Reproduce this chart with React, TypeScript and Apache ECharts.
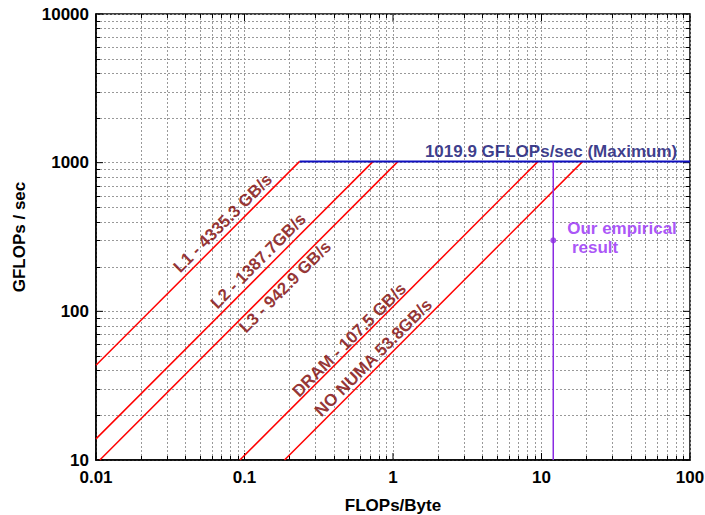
import React, { useEffect, useRef } from "react";
import * as echarts from "echarts";

// ---- data ----
const roofNames = ["L1 - 4335.3 GB/s", "L2 - 1387.7GB/s", "L3 - 942.9 GB/s", "DRAM - 107.5 GB/s", "NO NUMA 53.8GB/s"];
const roofBandwidths = [4335.3, 1387.7, 942.9, 107.5, 53.8];
const peakGflops = 1019.9;
const peakLabel = "1019.9 GFLOPs/sec (Maximum)";
const empiricalX = 12;
const empiricalY = 300;
const empiricalLabel = ["Our empirical", " result"];
const xDomain = [0.01, 100];
const yDomain = [10, 10000];

// annotation anchors (data coordinates)
const roofLabelAnchors = [
  [0.0715, 392],
  [0.124, 218],
  [0.188, 146],
  [0.508, 64.2],
  [0.738, 48.7],
];

const FONT = "'Liberation Sans', Arial, Helvetica, sans-serif";

function minorValues(lo: number, hi: number): number[] {
  const out: number[] = [];
  for (let d = Math.round(Math.log10(lo)); d < Math.round(Math.log10(hi)); d++) {
    for (let m = 2; m <= 9; m++) out.push(m * Math.pow(10, d));
  }
  return out;
}
function majorValues(lo: number, hi: number): number[] {
  const out: number[] = [];
  for (let d = Math.round(Math.log10(lo)); d <= Math.round(Math.log10(hi)); d++) out.push(Math.pow(10, d));
  return out;
}

export default function App() {
  const ref = useRef<HTMLDivElement>(null);
  useEffect(() => {
    document.body.style.margin = "0";
    const chart = echarts.init(ref.current!, null, { renderer: "svg" });

    const xMinor = minorValues(xDomain[0], xDomain[1]);
    const yMinor = minorValues(yDomain[0], yDomain[1]);
    const xMajor = majorValues(xDomain[0], xDomain[1]);
    const yMajor = majorValues(yDomain[0], yDomain[1]);

    const roofSeries = roofBandwidths.map((bw, i) => {
      const x0 = Math.max(xDomain[0], yDomain[0] / bw);
      return {
        name: roofNames[i],
        type: "line",
        data: [
          [x0, bw * x0],
          [peakGflops / bw, peakGflops],
        ],
        showSymbol: false,
        lineStyle: { color: "#ff0000", width: 1.5 },
        clip: true,
        z: 3,
      };
    });

    const ridgeL1 = peakGflops / roofBandwidths[0];

    const fmt = (v: number) => String(Number(v.toPrecision(3)));

    const option: any = {
      animation: false,
      grid: {
        left: 96, right: 15, top: 14, bottom: 55,
        outerBoundsMode: "none",
        containLabel: false,
        show: true, borderColor: "#000", borderWidth: 1.5, backgroundColor: "transparent",
      },
      xAxis: {
        type: "log",
        logBase: 10,
        min: xDomain[0],
        max: xDomain[1],
        name: "FLOPs/Byte",
        nameLocation: "middle",
        nameGap: 37,
        nameTextStyle: { fontFamily: FONT, fontSize: 17, fontWeight: "bold", color: "#000" },
        axisLine: { show: true, lineStyle: { color: "#000", width: 1.5 } },
        axisTick: { show: false },
        axisLabel: { fontFamily: FONT, fontSize: 17, fontWeight: "bold", color: "#000", margin: 9, formatter: fmt },
        splitLine: { show: true, lineStyle: { color: "#999", type: [2, 2], width: 1 } },
      },
      yAxis: {
        type: "log",
        logBase: 10,
        min: yDomain[0],
        max: yDomain[1],
        name: "GFLOPs / sec",
        nameLocation: "middle",
        nameGap: 68,
        nameTextStyle: { fontFamily: FONT, fontSize: 17, fontWeight: "bold", color: "#000" },
        axisLine: { show: true, lineStyle: { color: "#000", width: 1.5 } },
        axisTick: { show: false },
        axisLabel: { fontFamily: FONT, fontSize: 17, fontWeight: "bold", color: "#000", margin: 7, formatter: fmt },
        splitLine: { show: true, lineStyle: { color: "#999", type: [2, 2], width: 1 } },
      },
      series: [
        {
          type: "custom",
          silent: true,
          z: 1,
          clip: false,
          data: [[1, 100]],
          renderItem: (params: any, api: any) => {
            const cs = params.coordSys;
            const top = cs.y, bottom = cs.y + cs.height, left = cs.x, right = cs.x + cs.width;
            const children: any[] = [];
            const grid = { stroke: "#999", lineDash: [2, 2], lineWidth: 1 };
            const tick = { stroke: "#000", lineWidth: 1 };
            xMinor.forEach((v) => {
              const px = Math.round(api.coord([v, yDomain[0]])[0]) + 0.5;
              children.push({ type: "line", shape: { x1: px, y1: top, x2: px, y2: bottom }, style: grid });
              children.push({ type: "line", shape: { x1: px, y1: bottom, x2: px, y2: bottom - 4 }, style: tick });
              children.push({ type: "line", shape: { x1: px, y1: top, x2: px, y2: top + 4 }, style: tick });
            });
            yMinor.forEach((v) => {
              const py = Math.round(api.coord([xDomain[0], v])[1]) + 0.5;
              children.push({ type: "line", shape: { x1: left, y1: py, x2: right, y2: py }, style: grid });
              children.push({ type: "line", shape: { x1: left, y1: py, x2: left + 4, y2: py }, style: tick });
              children.push({ type: "line", shape: { x1: right, y1: py, x2: right - 4, y2: py }, style: tick });
            });
            xMajor.forEach((v) => {
              const px = api.coord([v, yDomain[0]])[0];
              children.push({ type: "line", shape: { x1: px, y1: bottom, x2: px, y2: bottom - 7 }, style: tick });
              children.push({ type: "line", shape: { x1: px, y1: top, x2: px, y2: top + 7 }, style: tick });
            });
            yMajor.forEach((v) => {
              const py = api.coord([xDomain[0], v])[1];
              children.push({ type: "line", shape: { x1: left, y1: py, x2: left + 7, y2: py }, style: tick });
              children.push({ type: "line", shape: { x1: right, y1: py, x2: right - 7, y2: py }, style: tick });
            });
            return { type: "group", children };
          },
        },
        ...roofSeries,
        {
          name: "peak",
          type: "line",
          data: [
            [ridgeL1, peakGflops],
            [xDomain[1], peakGflops],
          ],
          showSymbol: false,
          lineStyle: { color: "#1010c0", width: 2 },
          z: 4,
        },
        {
          name: "empirical-line",
          type: "line",
          data: [
            [empiricalX, yDomain[0]],
            [empiricalX, peakGflops],
          ],
          showSymbol: false,
          lineStyle: { color: "#8a2be2", width: 1.5 },
          z: 4,
        },
        {
          name: "empirical",
          type: "scatter",
          data: [[empiricalX, empiricalY]],
          symbol: "circle",
          symbolSize: 6,
          itemStyle: { color: "#8a2be2" },
          z: 5,
        },
        {
          name: "labels",
          type: "scatter",
          silent: true,
          symbolSize: 1,
          itemStyle: { color: "rgba(0,0,0,0)" },
          z: 6,
          data: [
            ...roofNames.map((n, i) => ({
              value: roofLabelAnchors[i],
              label: {
                show: true,
                position: "inside",
                formatter: n,
                rotate: 45,
                align: "center",
                verticalAlign: "middle",
                color: "#7a0000",
                fontFamily: FONT,
                fontSize: 17,
                fontWeight: "bold",
              },
            })),
            {
              value: [1.64, 1180],
              label: { show: true, position: "inside", formatter: peakLabel, align: "left", verticalAlign: "middle", color: "#0a0a6e", fontFamily: FONT, fontSize: 17, fontWeight: "bold" },
            },
            {
              value: [14.9, 358],
              label: { show: true, position: "inside", formatter: empiricalLabel[0], align: "left", verticalAlign: "middle", color: "#9428f5", fontFamily: FONT, fontSize: 17, fontWeight: "bold" },
            },
            {
              value: [14.9, 267],
              label: { show: true, position: "inside", formatter: empiricalLabel[1], align: "left", verticalAlign: "middle", color: "#9428f5", fontFamily: FONT, fontSize: 17, fontWeight: "bold" },
            },
          ],
        },
      ],
    };
    chart.setOption(option);
    return () => chart.dispose();
  }, []);
  return <div ref={ref} style={{ width: 705, height: 515, background: "#fff" }} />;
}
